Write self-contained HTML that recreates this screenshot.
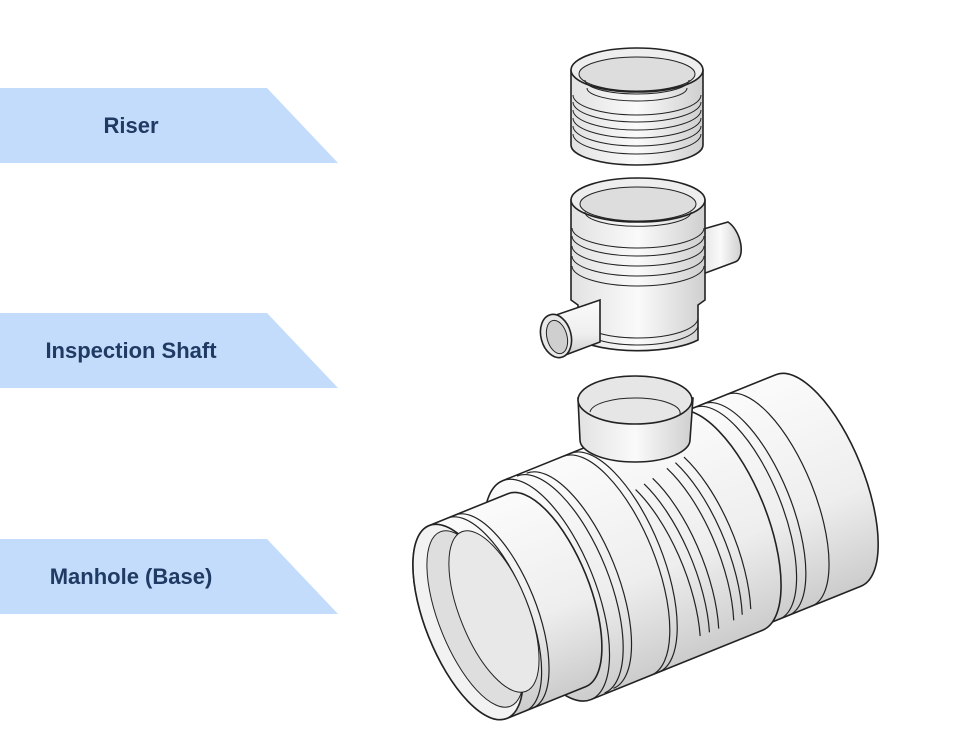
<!DOCTYPE html>
<html><head><meta charset="utf-8"><style>
html,body{margin:0;padding:0;background:#fff;}
body{width:962px;height:751px;position:relative;overflow:hidden;font-family:"Liberation Sans",sans-serif;}
.lab{position:absolute;left:0;width:340px;height:75px;}
.lab svg{position:absolute;left:0;top:0;}
.lab span{position:absolute;left:0;width:262px;top:0;line-height:75px;text-align:center;font-weight:bold;font-size:22px;color:#1f3a63;}
</style></head><body>
<div class="lab" style="top:88px"><svg width="340" height="75"><polygon points="0,0 267,0 338,75 0,75" fill="#c3dcfb"/></svg><span>Riser</span></div>
<div class="lab" style="top:313px"><svg width="340" height="75"><polygon points="0,0 267,0 338,75 0,75" fill="#c3dcfb"/></svg><span>Inspection Shaft</span></div>
<div class="lab" style="top:539px"><svg width="340" height="75"><polygon points="0,0 267,0 338,75 0,75" fill="#c3dcfb"/></svg><span>Manhole (Base)</span></div>

<svg width="962" height="751" style="position:absolute;left:0;top:0" stroke="#222" stroke-width="1.6">
<defs>
<linearGradient id="g" x1="0" x2="1"><stop offset="0" stop-color="#e2e2e2"/><stop offset="0.5" stop-color="#fafafa"/><stop offset="1" stop-color="#cfcfcf"/></linearGradient>
<linearGradient id="gv" x1="0" y1="0" x2="0" y2="1"><stop offset="0" stop-color="#fbfbfb"/><stop offset="0.6" stop-color="#eeeeee"/><stop offset="1" stop-color="#cccccc"/></linearGradient>
</defs>
<!-- Riser -->
<path d="M571,70 L571,145 A66,20 0 0 0 703,145 L703,70 Z" fill="url(#g)"/>
<ellipse cx="637" cy="70" rx="66" ry="22" fill="#eee"/>
<ellipse cx="637" cy="74" rx="58" ry="17" fill="#ddd" stroke-width="1"/>
<g fill="none" stroke-width="1">
<path d="M573,95 A64,20 0 0 0 701,95"/><path d="M573,102 A64,20 0 0 0 701,102"/><path d="M573,110 A64,20 0 0 0 701,110"/><path d="M573,118 A64,20 0 0 0 701,118"/><path d="M573,126 A64,20 0 0 0 701,126"/><path d="M573,134 A64,20 0 0 0 701,134"/>
<path d="M585,80 A52,14 0 0 0 689,80"/><path d="M587,88 A50,13 0 0 0 687,88"/>
</g>
<!-- Inspection shaft -->
<path d="M700,230 L728,222 A12,22 -20 0 1 735,262 L700,275 Z" fill="url(#g)"/>
<path d="M571,200 L571,300 L578,305 L578,340 A70,22 0 0 0 698,340 L698,305 L705,300 L705,200 Z" fill="url(#g)"/>
<ellipse cx="638" cy="200" rx="67" ry="22" fill="#eee"/>
<ellipse cx="638" cy="204" rx="58" ry="17" fill="#ddd" stroke-width="1"/>
<g fill="none" stroke-width="1">
<path d="M572,228 A66,20 0 0 0 704,228"/><path d="M572,236 A66,20 0 0 0 704,236"/><path d="M572,246 A66,20 0 0 0 704,246"/><path d="M572,256 A66,20 0 0 0 704,256"/><path d="M572,266 A66,20 0 0 0 704,266"/>
<path d="M578,318 A60,20 0 0 0 698,318"/><path d="M578,325 A60,20 0 0 0 698,325"/>
<path d="M585,212 A52,14 0 0 0 691,212"/>
</g>
<path d="M600,300 L556,315 L560,357 L600,342 Z" fill="url(#gv)"/>
<ellipse cx="556" cy="336" rx="15" ry="22" transform="rotate(-15 556 336)" fill="#e8e8e8"/>
<ellipse cx="557" cy="337" rx="10" ry="17" transform="rotate(-15 557 337)" fill="#cfcfcf" stroke-width="1"/>
<!-- Base -->
<g transform="translate(468,622) rotate(-22)">
<path d="M270,-114 L378,-114 A45,114 0 0 1 378,114 L270,114 A45,114 0 0 1 270,-114 Z" fill="url(#gv)"/>
<path d="M85,-118 L270,-118 A48,118 0 0 1 270,118 L85,118 A48,118 0 0 1 85,-118 Z" fill="url(#gv)"/>
<path d="M0,-104 L85,-104 A42,104 0 0 1 85,104 L0,104 A42,104 0 0 1 0,-104 Z" fill="url(#gv)"/>
<g fill="none" stroke-width="1.2">
<path d="M85,-118 A48,118 0 0 1 85,118"/>
<path d="M100,-117 A48,117 0 0 1 100,117"/><path d="M110,-116 A47,116 0 0 1 110,116"/>
<path d="M150,-118 A48,118 0 0 1 150,118"/><path d="M158,-118 A48,118 0 0 1 158,118"/>
<path d="M290,-114 A45,114 0 0 1 290,114"/><path d="M300,-114 A45,114 0 0 1 300,114"/><path d="M325,-114 A45,114 0 0 1 325,114"/>
<path d="M20,-104 A42,104 0 0 1 20,104"/><path d="M28,-104 A42,104 0 0 1 28,104"/>
<path d="M205,-60 A48,118 0 0 1 210,100"/><path d="M215,-62 A48,118 0 0 1 220,100"/><path d="M225,-64 A48,118 0 0 1 230,100"/>
<path d="M242,-68 A48,118 0 0 1 247,98"/><path d="M252,-70 A48,118 0 0 1 257,96"/><path d="M262,-72 A48,118 0 0 1 267,94"/>
</g>
<ellipse cx="0" cy="0" rx="42" ry="104" fill="#f2f2f2"/>
<ellipse cx="8" cy="0" rx="36" ry="94" fill="#dedede" stroke-width="1"/>
<ellipse cx="28" cy="0" rx="34" ry="86" fill="#e8e8e8" stroke-width="1"/>
</g>
<path d="M578,398 L580,440 A55,22 0 0 0 690,440 L693,398 Z" fill="url(#g)"/>
<ellipse cx="635" cy="400" rx="57" ry="24" fill="#e6e6e6"/>
<path d="M590,412 A45,15 0 0 1 680,414" fill="none" stroke-width="1"/>
</svg>
</body></html>
